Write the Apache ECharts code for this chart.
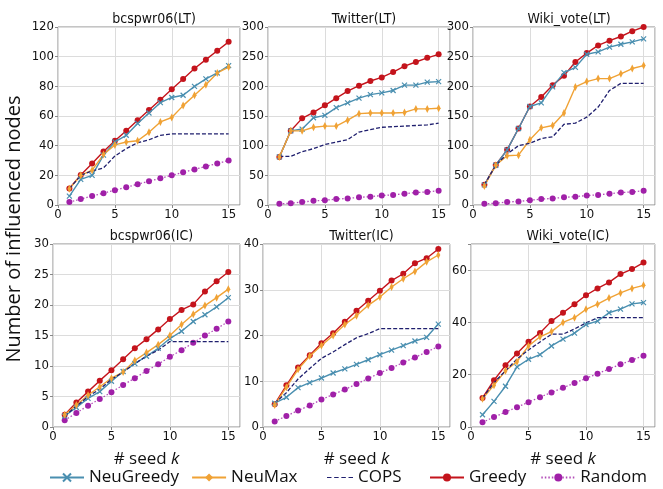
<!DOCTYPE html>
<html><head><meta charset="utf-8">
<script src="https://cdn.jsdelivr.net/npm/echarts@6/dist/echarts.min.js"></script>
<style>html,body{margin:0;padding:0;background:#fff}#c{width:663px;height:489px}</style>
</head><body><div id="c"></div>
<script>
const seeds = [1,2,3,4,5,6,7,8,9,10,11,12,13,14,15];
const methods = ['NeuGreedy','NeuMax','COPS','Greedy','Random'];
const panelTitles = ['bcspwr06(LT)','Twitter(LT)','Wiki_vote(LT)','bcspwr06(IC)','Twitter(IC)','Wiki_vote(IC)'];
const yMaxs = [120,300,300,30,40,70];
const ySteps = [20,50,50,5,10,20];
const xTicks = [0,5,10,15];

// bcspwr06(LT)
const bcsLT_NeuGreedy = [6,17.3,20,33.6,42.6,47,55,62,69,72.5,74,80,85,89,94];
const bcsLT_NeuMax    = [11,20,23.5,34,40.5,42.5,43.3,49,56,59,67,74,81,89,93];
const bcsLT_COPS      = [11,20,23,25,33,38,42,44,47,48,48,48,48,48,48];
const bcsLT_Greedy    = [11.2,20.2,28,36,43.3,50,57.2,64,71,78,85,92,98,104,110];
const bcsLT_Random    = [2,4,6,8,10,12,14,16,18,20,22,24,26,28,30];
// Twitter(LT)
const twLT_NeuGreedy = [81,125,128,147,151,164,172,180,186,189,193,202,202,207,208];
const twLT_NeuMax    = [81,125,125,131,133,133,143,154,155,155,155,156,162,162,163];
const twLT_COPS      = [82,82,90,95,102,106,110,123,127,131,132,133,134,135,138];
const twLT_Greedy    = [81,125,146,156,168,180,192,201,209,215,224,234,241,248,254];
const twLT_Random    = [2,3,5,7,8,10,11,13,14,16,17,19,21,22,24];
// Wiki_vote(LT)
const wkLT_NeuGreedy = [34,67,93,129,166,172,199,223,232,254,258,266,271,275,280];
const wkLT_NeuMax    = [32,67,83,84,110,130,134,155,199,208,213,213,221,230,235];
const wkLT_COPS      = [34,67,86,100,104,112,115,136,138,148,165,193,205,205,205];
const wkLT_Greedy    = [34,67.5,93,129,166,182,202,218,241,256,269,277,284,293,300];
const wkLT_Random    = [2,3,5,6,8,10,11,13,14,16,17,19,21,22,24];
// bcspwr06(IC)
const bcsIC_NeuGreedy = [1.8,3.2,4.7,5.8,7.5,9.1,10.4,11.6,12.9,14.5,15.7,17.3,18.4,19.7,21.2];
const bcsIC_NeuMax    = [2.0,3.6,5.2,6.6,8.0,9.0,10.9,12.2,13.5,15.0,16.8,18.5,19.9,21.2,22.6];
const bcsIC_COPS      = [1.8,3.4,5.0,6.2,7.8,9.0,10.4,11.6,12.6,14,14,14,14,14,14];
const bcsIC_Greedy    = [2.0,4.0,5.8,7.6,9.3,11.1,12.9,14.4,16.0,17.7,19.2,20.1,22.2,23.9,25.4];
const bcsIC_Random    = [1.1,2.3,3.5,4.6,5.7,6.9,8.0,9.2,10.3,11.5,12.6,13.8,15.0,16.1,17.3];
// Twitter(IC)
const twIC_NeuGreedy = [5.2,6.5,8.6,9.7,10.7,11.8,12.7,13.7,14.7,15.8,16.8,17.8,18.8,19.6,22.5];
const twIC_NeuMax    = [4.8,8.7,12.6,15.5,17.8,20.0,22.4,24.3,26.6,28.4,30.6,32.4,34.0,36.1,37.6];
const twIC_COPS      = [5.2,7.5,10.5,12.8,15.0,16.4,18.0,19.5,20.4,21.5,21.5,21.5,21.5,21.5,21.5];
const twIC_Greedy    = [5.0,9.1,13.0,15.7,18.3,20.5,23.0,25.4,27.6,29.8,32.0,33.5,35.8,36.9,38.9];
const twIC_Random    = [1.2,2.4,3.6,4.7,6.0,7.1,8.2,9.4,10.6,11.8,12.9,14.1,15.2,16.4,17.6];
// Wiki_vote(IC)
const wkIC_NeuGreedy = [4.7,9.8,15.6,23.0,25.9,27.7,31.0,33.6,35.9,39.2,40.5,43.7,45.1,47.1,47.6];
const wkIC_NeuMax    = [10.8,16.0,21.5,25.0,31.0,34.5,36.5,40.0,41.8,45.0,47.0,49.3,51.3,53.0,54.2];
const wkIC_COPS      = [11,17,21.5,26,29.5,32.5,35.5,35.5,37.5,39.8,41.8,41.8,41.8,41.8,41.8];
const wkIC_Greedy    = [11.1,17.9,23.6,28.1,32.6,36.0,40.5,43.7,47.0,50.4,53.0,55.3,58.5,60.4,62.9];
const wkIC_Random    = [1.8,3.8,5.7,7.6,9.5,11.4,13.2,15.0,16.8,18.6,20.4,22.2,24.0,25.6,27.3];

const panelData = [
  [bcsLT_NeuGreedy,bcsLT_NeuMax,bcsLT_COPS,bcsLT_Greedy,bcsLT_Random],
  [twLT_NeuGreedy,twLT_NeuMax,twLT_COPS,twLT_Greedy,twLT_Random],
  [wkLT_NeuGreedy,wkLT_NeuMax,wkLT_COPS,wkLT_Greedy,wkLT_Random],
  [bcsIC_NeuGreedy,bcsIC_NeuMax,bcsIC_COPS,bcsIC_Greedy,bcsIC_Random],
  [twIC_NeuGreedy,twIC_NeuMax,twIC_COPS,twIC_Greedy,twIC_Random],
  [wkIC_NeuGreedy,wkIC_NeuMax,wkIC_COPS,wkIC_Greedy,wkIC_Random]
];

const tickFont = '"Liberation Sans Narrow","DejaVu Sans Condensed","Liberation Sans",sans-serif';
const textFont = '"Open Sans","Noto Sans",sans-serif';
const rects = [
  {left:58, top:27, width:182, height:178},
  {left:268,top:27, width:182, height:178},
  {left:473,top:27, width:182, height:178},
  {left:53, top:244,width:187, height:183},
  {left:263,top:244,width:187, height:183},
  {left:471,top:244,width:184, height:183}
];

const styles = {
  NeuGreedy:{color:'#4a8fb0', symbol:'path://M0,0L10,10M10,0L0,10', size:5, lineType:'solid', lw:1.4},
  NeuMax:{color:'#f0a235', symbol:'diamond', size:[4,8], lineType:'solid', lw:1.4},
  COPS:{color:'#1f1f6e', symbol:'none', size:0, lineType:[4,2], lw:1.3},
  Greedy:{color:'#c4141c', symbol:'circle', size:6, lineType:'solid', lw:1.4},
  Random:{color:'#a020a8', symbol:'circle', size:6, lineType:[1.5,2], lw:1.3}
};

const grid=[], xAxis=[], yAxis=[], title=[], series=[];
rects.forEach((r,p)=>{
  grid.push(Object.assign({show:true, borderColor:'#8a8a8a', borderWidth:1, containLabel:false}, r));
  title.push({text:panelTitles[p], left:r.left+r.width/2, top:r.top-20, textAlign:'center',
    textStyle:{fontFamily:tickFont, fontSize:14, fontWeight:'normal', color:'#111'}});
  const bottom = p>=3;
  xAxis.push({type:'value', gridIndex:p, min:0, max:16, interval:5,
    name: bottom ? '# seed {i|k}' : '', nameLocation:'middle', nameGap:24,
    nameTextStyle:{fontFamily:textFont, fontSize:17, color:'#111', rich:{i:{fontStyle:'italic', fontFamily:textFont, fontSize:17, color:'#111'}}},
    axisLine:{show:false}, axisTick:{show:true, length:3, lineStyle:{color:'#888'}},
    axisLabel:{fontFamily:tickFont, fontSize:13, color:'#111', margin:3, showMaxLabel:false,
      formatter:v=>xTicks.indexOf(v)>=0?String(v):''},
    splitLine:{show:true, lineStyle:{color:'#dcdcdc', width:1}}});
  yAxis.push({type:'value', gridIndex:p, min:0, max:yMaxs[p], interval:ySteps[p],
    axisLine:{show:false}, axisTick:{show:true, length:3, lineStyle:{color:'#888'}},
    axisLabel:{fontFamily:tickFont, fontSize:13, color:'#111', margin:4,
      formatter:v=>(v%ySteps[p]===0)?String(v):''},
    splitLine:{show:true, lineStyle:{color:'#dcdcdc', width:1}}});
  methods.forEach((m,j)=>{
    const s = styles[m];
    series.push({name:m, type:'line', xAxisIndex:p, yAxisIndex:p,
      data: seeds.map((k,i)=>[k, panelData[p][j][i]]),
      symbol:s.symbol, symbolSize:s.size, showSymbol:s.symbol!=='none',
      lineStyle:{color:s.color, width:s.lw, type:s.lineType, opacity: m==='Random'?0.8:1},
      itemStyle:{color:s.color, borderColor:s.color, borderWidth: m==='NeuGreedy'?1.2:0},
      z: m==='Greedy'?2:(m==='Random'?3:4), animation:false, silent:true});
  });
});

const legendText = {fontFamily:textFont, fontSize:17, color:'#111'};
const chart = echarts.init(document.getElementById('c'), null, {renderer:'canvas'});
chart.setOption({
  backgroundColor:'#fff', animation:false,
  title, grid, xAxis, yAxis, series,
  legend:[
    {data:['NeuGreedy','NeuMax'], left:44, top:464, itemWidth:34, itemHeight:10, itemGap:12, textStyle:legendText},
    {data:[{name:'COPS', icon:'path://M0,0h5v1h-5zM8,0h5v1h-5zM16,0h5v1h-5zM24,0h5v1h-5z'}], left:322, top:464, itemWidth:26, itemHeight:2, textStyle:legendText},
    {data:['Greedy','Random'], left:424, top:464, itemWidth:34, itemHeight:10, itemGap:14, textStyle:legendText}
  ],
  graphic:[{type:'text', rotation:Math.PI/2, x:14, y:229,
    style:{text:'Number of influenced nodes', font:'20px "Open Sans","Noto Sans",sans-serif', fill:'#111', textAlign:'center', textVerticalAlign:'middle'}}]
});
</script></body></html>
